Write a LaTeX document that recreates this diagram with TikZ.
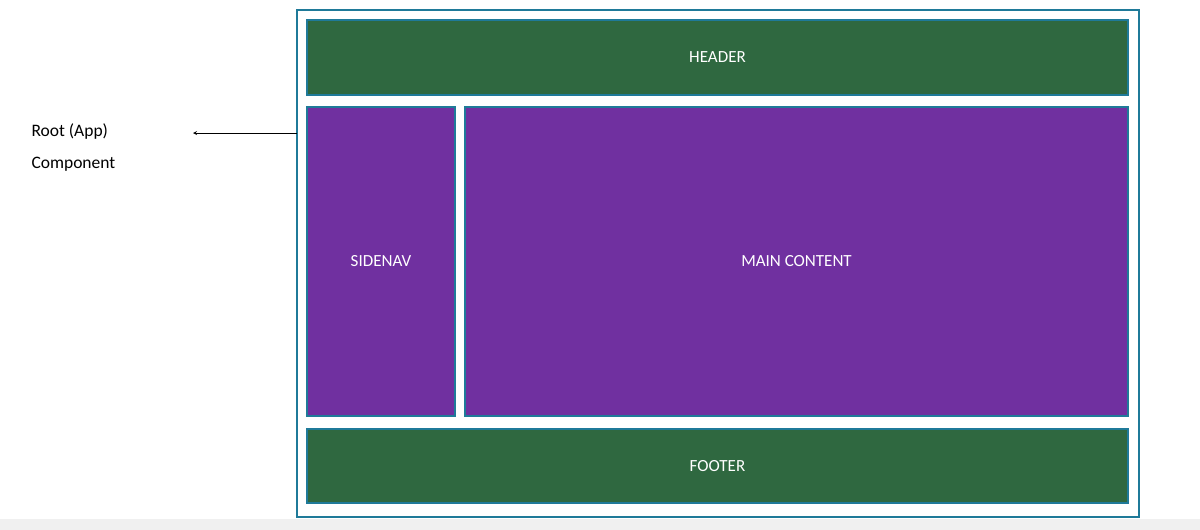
\documentclass[tikz,border=0pt]{standalone}
\usepackage{fontspec}
\setmainfont{Carlito}
\definecolor{edge}{HTML}{1F7A99}
\definecolor{grn}{HTML}{2F6840}
\definecolor{prp}{HTML}{7030A0}
\tikzset{blk/.style={draw=edge,line width=2pt,text=white,font=\fontsize{17}{20}\selectfont}}
\begin{document}
\begin{tikzpicture}[x=1pt,y=-1pt]
\useasboundingbox (0,0) rectangle (1200,530);
\fill[gray!12] (0,519) rectangle (1200,530);
\draw[edge,line width=1.6pt] (297,10) rectangle (1139,517);
\coordinate (outerW) at (297,133);
\draw[blk,fill=grn] (307,20) rectangle node (hdr) {HEADER} (1128,95);
\draw[blk,fill=prp] (307,107) rectangle node (side) {SIDENAV} (455,416);
\draw[blk,fill=prp] (465,107) rectangle node (main) {MAIN CONTENT} (1128,416);
\draw[blk,fill=grn] (307,429) rectangle node (foot) {FOOTER} (1128,503);
\node[anchor=west,align=left,font=\fontsize{17.5}{32}\selectfont] (root) at (28,148) {Root (App)\\Component};
\coordinate (tip) at (193,133);
\draw[-stealth,line width=0.8pt] (outerW) -- (tip);
\end{tikzpicture}
\end{document}
